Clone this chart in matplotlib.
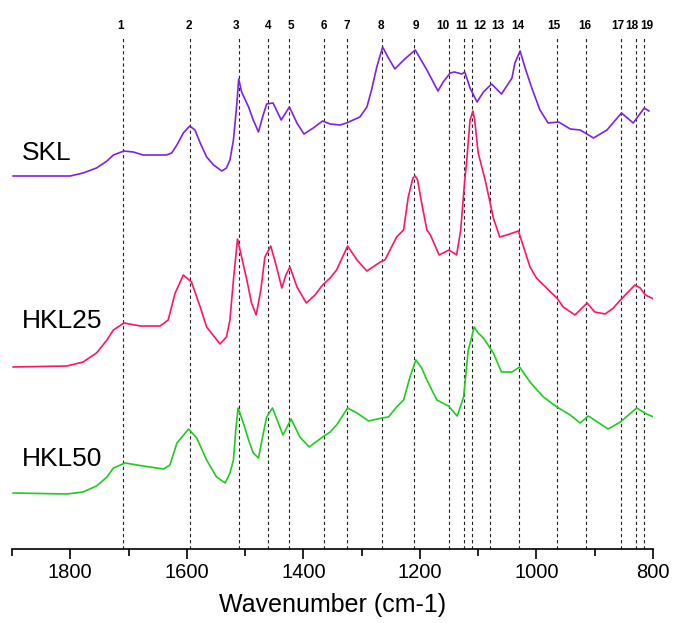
import numpy as np
import matplotlib
matplotlib.use("Agg")
import matplotlib.pyplot as plt

plt.rcParams['font.family'] = ['Liberation Sans', 'DejaVu Sans']

# Band positions (cm-1) marked with dashed lines
bands = [1710, 1595, 1510, 1460, 1425, 1365, 1325, 1265, 1210, 1150,
         1125, 1110, 1080, 1030, 965, 915, 855, 830, 815]
band_labels = [str(i + 1) for i in range(len(bands))]
# where the numbers sit (spread a little where lines are close)
label_pos = [1714, 1597, 1515, 1460, 1421, 1365, 1326, 1267, 1207, 1160,
             1129, 1098, 1067, 1032, 970, 917, 861, 836, 810]

# SKL spectrum (wavenumber, absorbance a.u.)
skl_w = [1898, 1800, 1778, 1755, 1737, 1726, 1708, 1692, 1675, 1652,
         1635, 1626, 1617, 1606, 1595, 1586, 1577, 1566, 1554, 1540,
         1532, 1526, 1520, 1514, 1511, 1506, 1494, 1486, 1477, 1470,
         1463, 1452, 1438, 1424, 1411, 1399, 1383, 1367, 1354, 1337,
         1326, 1303, 1291, 1283, 1274, 1264, 1254, 1243, 1226, 1208,
         1188, 1169, 1160, 1148, 1141, 1128, 1123, 1114, 1102, 1091,
         1077, 1060, 1042, 1037, 1028, 1020, 1008, 994, 980, 962,
         942, 925, 902, 879, 854, 834, 815, 807]
skl_a = [0.04, 0.04, 0.07, 0.12, 0.19, 0.25, 0.29, 0.28, 0.25, 0.25,
         0.25, 0.27, 0.35, 0.47, 0.54, 0.50, 0.37, 0.23, 0.15, 0.09,
         0.12, 0.20, 0.40, 0.77, 1.01, 0.88, 0.73, 0.60, 0.48, 0.63,
         0.76, 0.77, 0.60, 0.73, 0.57, 0.46, 0.52, 0.59, 0.56, 0.55,
         0.57, 0.63, 0.73, 0.90, 1.13, 1.33, 1.22, 1.11, 1.21, 1.30,
         1.10, 0.89, 0.98, 1.07, 1.08, 1.06, 1.08, 0.92, 0.78, 0.88,
         0.96, 0.86, 1.02, 1.17, 1.29, 1.13, 0.92, 0.70, 0.57, 0.58,
         0.51, 0.50, 0.42, 0.50, 0.67, 0.57, 0.72, 0.69]

# HKL25 spectrum
hkl25_w = [1898, 1806, 1778, 1755, 1737, 1726, 1708, 1680, 1646, 1632,
           1620, 1606, 1592, 1577, 1566, 1543, 1532, 1526, 1520, 1513,
           1506, 1497, 1489, 1481, 1473, 1466, 1456, 1446, 1437, 1430,
           1423, 1411, 1395, 1380, 1367, 1354, 1343, 1324, 1308, 1291,
           1268, 1260, 1240, 1228, 1220, 1212, 1208, 1204, 1197, 1188,
           1182, 1167, 1150, 1137, 1130, 1123, 1120, 1114, 1109, 1106,
           1100, 1088, 1074, 1063, 1051, 1031, 1011, 1000, 974, 965,
           954, 934, 913, 900, 882, 868, 856, 831, 822, 813, 799]
hkl25_a = [0.03, 0.04, 0.08, 0.17, 0.30, 0.40, 0.47, 0.44, 0.44, 0.50,
           0.77, 0.95, 0.88, 0.63, 0.43, 0.26, 0.33, 0.50, 0.90, 1.31,
           1.13, 0.90, 0.67, 0.55, 0.80, 1.13, 1.24, 1.03, 0.82, 0.95,
           1.03, 0.83, 0.67, 0.75, 0.85, 0.92, 1.00, 1.24, 1.10, 0.99,
           1.08, 1.10, 1.33, 1.40, 1.73, 1.92, 1.94, 1.90, 1.67, 1.40,
           1.35, 1.15, 1.20, 1.15, 1.40, 1.90, 2.07, 2.50, 2.59, 2.50,
           2.17, 1.90, 1.52, 1.33, 1.35, 1.39, 1.03, 0.92, 0.77, 0.72,
           0.63, 0.55, 0.67, 0.58, 0.56, 0.62, 0.70, 0.85, 0.82, 0.75, 0.71]

# HKL50 spectrum
hkl50_w = [1898, 1806, 1778, 1755, 1737, 1726, 1706, 1675, 1640, 1629,
           1617, 1597, 1583, 1566, 1549, 1534, 1526, 1520, 1516, 1512,
           1503, 1494, 1486, 1477, 1470, 1463, 1453, 1443, 1435, 1421,
           1406, 1390, 1367, 1354, 1343, 1324, 1308, 1288, 1265, 1254,
           1240, 1228, 1217, 1207, 1197, 1188, 1171, 1151, 1136, 1125,
           1117, 1111, 1107, 1100, 1091, 1074, 1060, 1042, 1029, 1011,
           999, 988, 965, 942, 925, 911, 877, 856, 828, 811, 799]
hkl50_a = [0.07, 0.06, 0.08, 0.14, 0.23, 0.32, 0.37, 0.34, 0.31, 0.35,
           0.57, 0.71, 0.62, 0.40, 0.23, 0.17, 0.27, 0.40, 0.70, 0.92,
           0.77, 0.60, 0.47, 0.42, 0.63, 0.83, 0.92, 0.77, 0.65, 0.81,
           0.63, 0.53, 0.63, 0.68, 0.75, 0.92, 0.87, 0.79, 0.82, 0.83,
           0.93, 1.00, 1.23, 1.40, 1.32, 1.20, 1.00, 0.94, 0.84, 1.03,
           1.50, 1.63, 1.73, 1.67, 1.62, 1.47, 1.28, 1.28, 1.33, 1.18,
           1.10, 1.03, 0.93, 0.85, 0.77, 0.84, 0.71, 0.78, 0.92, 0.86, 0.83]

names = ["SKL", "HKL25", "HKL50"]
offsets = [3.8, 1.9, 0.6]
name_y = [4.07, 2.39, 1.01]
colors = ["#7B22E8", "#FF1468", "#1ECC1E"]

fig = plt.figure(figsize=(6.73, 6.23), dpi=100)
ax = fig.add_axes([12 / 673, (623 - 549) / 623, 641 / 673, 539 / 623])

ymin, ymax = 0.11, 5.5
ax.set_xlim(1900, 800)
ax.set_ylim(ymin, ymax)

# dashed band markers with numbers on top
for b in bands:
    ax.vlines(b, ymin, 5.24, colors="#222222", linestyles=(0, (3, 2.5)), linewidth=0.8)
for x, lab in zip(label_pos, band_labels):
    ax.text(x, 5.34, lab, ha="center", va="center", fontsize=8.5, fontweight="bold")

series = [(skl_w, skl_a), (hkl25_w, hkl25_a), (hkl50_w, hkl50_a)]
for (w, a), off, c in zip(series, offsets, colors):
    ax.plot(w, np.array(a) + off, color=c, linewidth=1.2)

# sample names
for n, y in zip(names, name_y):
    ax.text(1883, y, n, fontsize=19, va="center", ha="left")

for s in ["left", "right", "top"]:
    ax.spines[s].set_visible(False)
ax.spines["bottom"].set_linewidth(1.2)
ax.set_yticks([])
ax.set_xticks([1800, 1600, 1400, 1200, 1000, 800])
ax.set_xticks([1900, 1700, 1500, 1300, 1100, 900], minor=True)
ax.tick_params(axis="x", which="major", length=7, width=1.2, labelsize=14.5, pad=3)
ax.tick_params(axis="x", which="minor", length=5, width=1.2)
ax.set_xlabel("Wavenumber (cm-1)", fontsize=18, labelpad=8)

fig.savefig("out.png", dpi=100)
